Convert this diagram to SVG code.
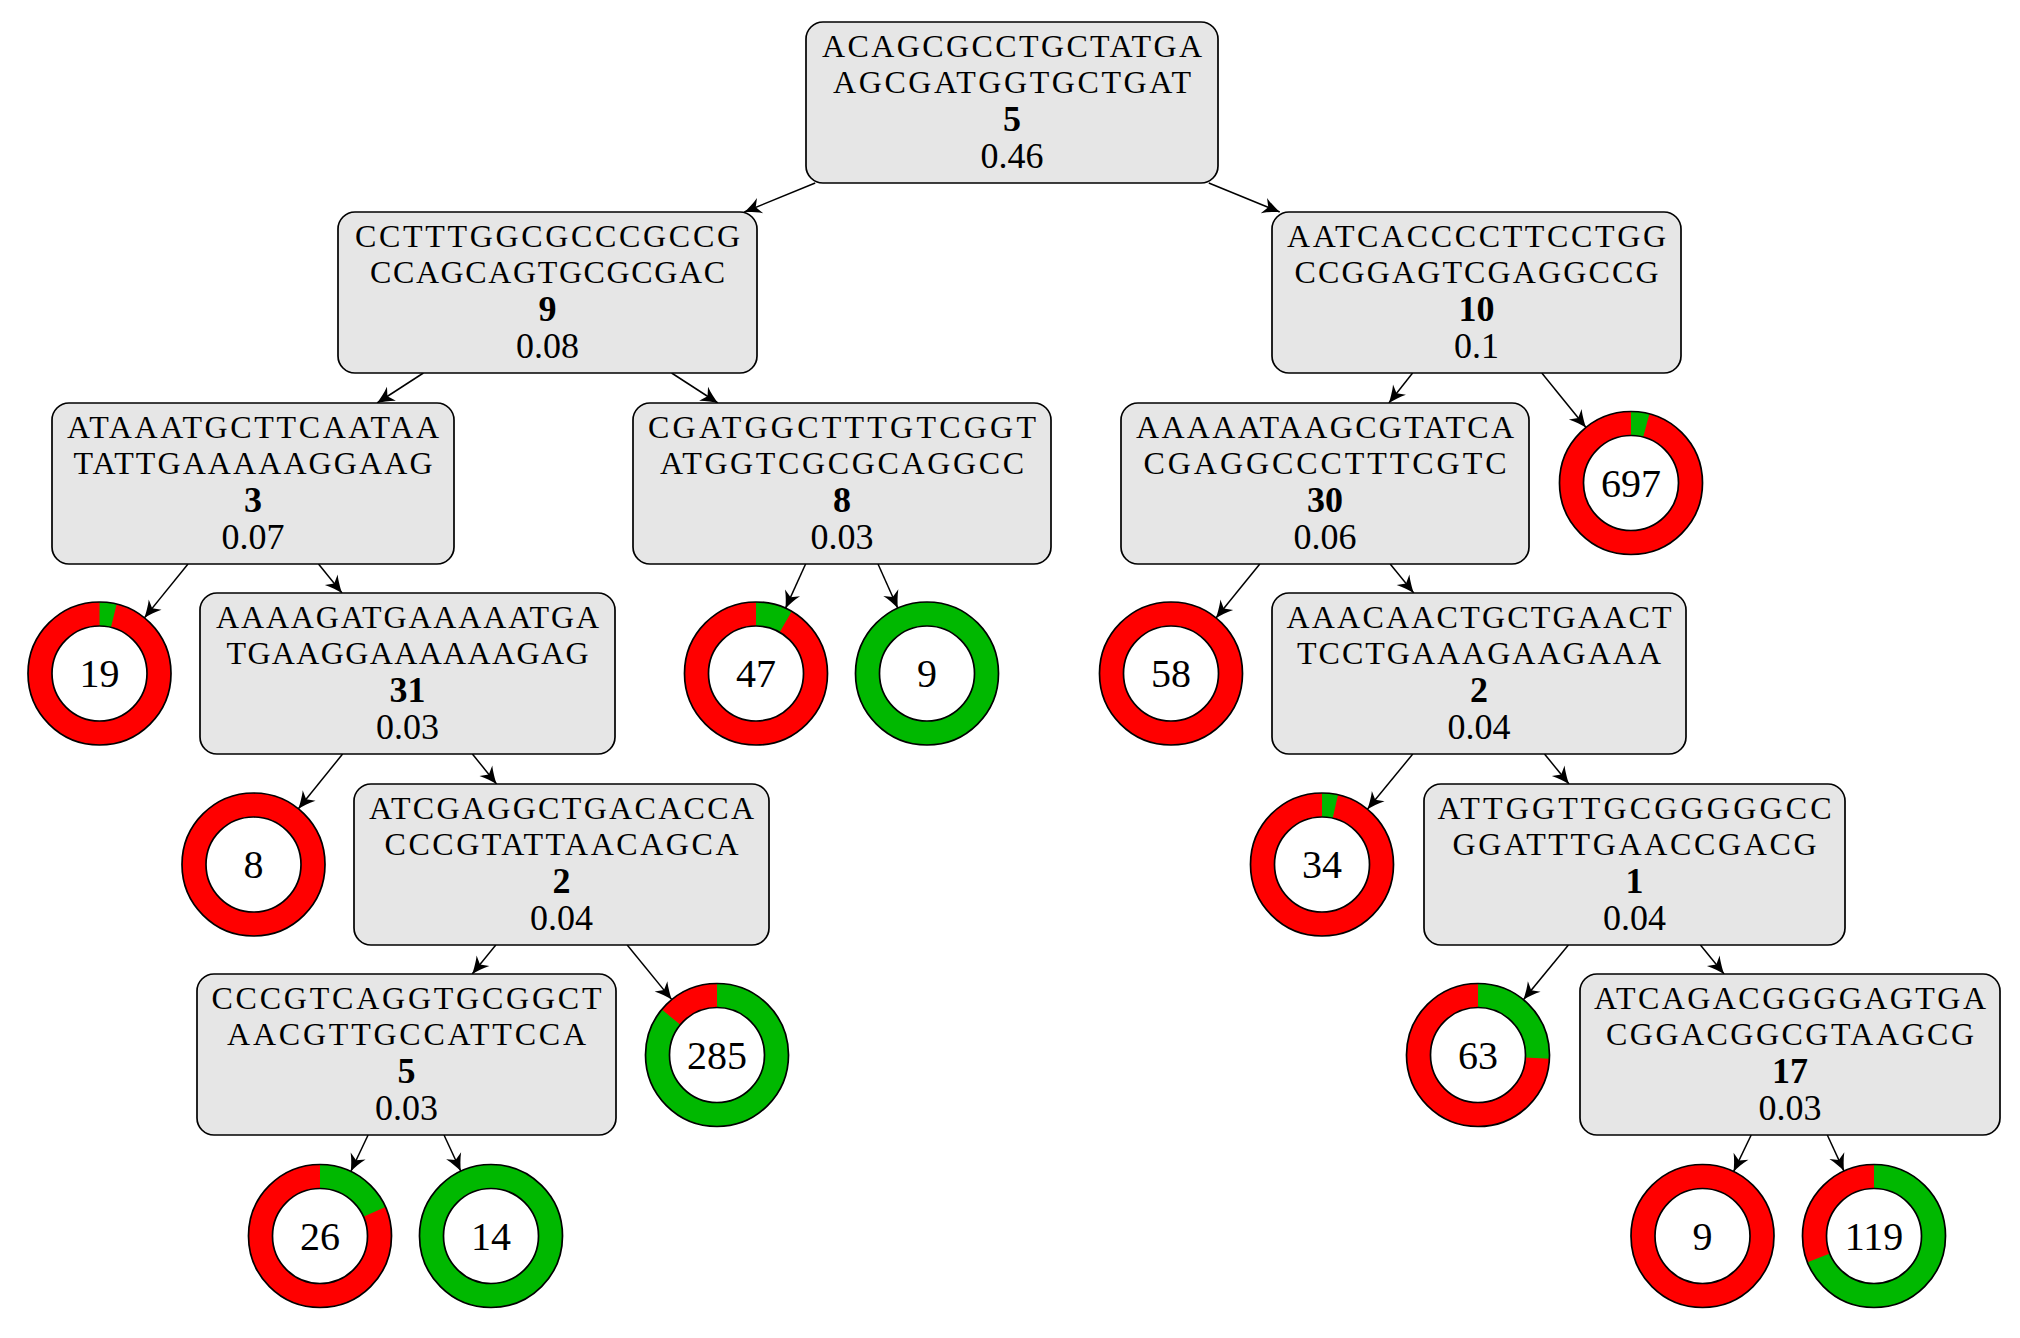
<svg xmlns="http://www.w3.org/2000/svg" width="2020" height="1338" viewBox="0 0 2020 1338">
  <style>
    .box { fill: #e6e6e6; stroke: #000; stroke-width: 1.7; }
    .seq { font-family: "Liberation Serif", "DejaVu Serif", serif; font-size: 32px; text-anchor: middle; fill: #000; }
    .num { font-family: "Liberation Serif", "DejaVu Serif", serif; font-size: 36px; text-anchor: middle; fill: #000; }
    .bold { font-weight: bold; }
    .count { font-family: "Liberation Serif", "DejaVu Serif", serif; font-size: 40px; text-anchor: middle; fill: #000; }
    .edge { stroke: #000; stroke-width: 1.5; fill: none; marker-end: url(#arrow); }
    .ring-red { fill: none; stroke: #ff0000; stroke-width: 24; }
    .ring-green { fill: none; stroke: #00b800; stroke-width: 24; }
    .rim { fill: none; stroke: #000; stroke-width: 1.7; }
    .hole { fill: #fff; stroke: #000; stroke-width: 1.7; }
  </style>
  <defs>
    <marker id="arrow" markerUnits="userSpaceOnUse" markerWidth="20" markerHeight="20" viewBox="-16 -8 17 16" refX="0" refY="0" orient="auto">
      <path d="M0,0 C-4,-1.5 -10,-4 -14.5,-7 L-10.5,0 L-14.5,7 C-10,4 -4,1.5 0,0 Z" fill="#000"/>
    </marker>
  </defs>

  <rect width="2020" height="1338" fill="#fff"/>

  <!-- connectors -->
  <g id="edges">
    <line class="edge" x1="815.2" y1="183" x2="744.3" y2="212"/>
    <line class="edge" x1="1208.8" y1="183" x2="1279.7" y2="212"/>
    <line class="edge" x1="423.4" y1="373" x2="377.1" y2="403"/>
    <line class="edge" x1="671.6" y1="373" x2="717.9" y2="403"/>
    <line class="edge" x1="1412.6" y1="373" x2="1388.9" y2="403"/>
    <line class="edge" x1="1541.8" y1="373" x2="1586" y2="427.5"/>
    <line class="edge" x1="188" y1="564" x2="144.4" y2="617.9"/>
    <line class="edge" x1="318.5" y1="564" x2="342" y2="593"/>
    <line class="edge" x1="805.6" y1="564" x2="785.5" y2="608.4"/>
    <line class="edge" x1="878" y1="564" x2="897.8" y2="608.2"/>
    <line class="edge" x1="1259.8" y1="564" x2="1216" y2="618"/>
    <line class="edge" x1="1390.2" y1="564" x2="1413.8" y2="593"/>
    <line class="edge" x1="342.6" y1="754" x2="298.4" y2="808.8"/>
    <line class="edge" x1="472.4" y1="754" x2="496.6" y2="784"/>
    <line class="edge" x1="1412.8" y1="754" x2="1367.4" y2="809.3"/>
    <line class="edge" x1="1544.5" y1="754" x2="1569" y2="784"/>
    <line class="edge" x1="495.8" y1="945" x2="472.2" y2="974"/>
    <line class="edge" x1="627.2" y1="945" x2="671.8" y2="999.6"/>
    <line class="edge" x1="1568.4" y1="945" x2="1523.4" y2="999.7"/>
    <line class="edge" x1="1700.4" y1="945" x2="1724.1" y2="974"/>
    <line class="edge" x1="368.1" y1="1135" x2="350.8" y2="1171.5"/>
    <line class="edge" x1="444" y1="1135" x2="460.8" y2="1171.2"/>
    <line class="edge" x1="1751.2" y1="1135" x2="1733.6" y2="1171.6"/>
    <line class="edge" x1="1827.3" y1="1135" x2="1844" y2="1171.1"/>
  </g>

  <!-- split nodes -->
  <g id="n0">
    <rect class="box" x="806" y="22" width="412" height="161" rx="17"/>
    <text class="seq" x="1012" y="56.5" textLength="380">ACAGCGCCTGCTATGA</text>
    <text class="seq" x="1012" y="93" textLength="358">AGCGATGGTGCTGAT</text>
    <text class="num bold" x="1012" y="131">5</text>
    <text class="num" x="1012" y="168">0.46</text>
  </g>
  <g id="n1">
    <rect class="box" x="338" y="212" width="419" height="161" rx="17"/>
    <text class="seq" x="547.5" y="246.5" textLength="385">CCTTTGGCGCCCGCCG</text>
    <text class="seq" x="547.5" y="283" textLength="355">CCAGCAGTGCGCGAC</text>
    <text class="num bold" x="547.5" y="321">9</text>
    <text class="num" x="547.5" y="358">0.08</text>
  </g>
  <g id="n2">
    <rect class="box" x="1272" y="212" width="409" height="161" rx="17"/>
    <text class="seq" x="1476.5" y="246.5" textLength="379">AATCACCCCTTCCTGG</text>
    <text class="seq" x="1476.5" y="283" textLength="364">CCGGAGTCGAGGCCG</text>
    <text class="num bold" x="1476.5" y="321">10</text>
    <text class="num" x="1476.5" y="358">0.1</text>
  </g>
  <g id="n3">
    <rect class="box" x="52" y="403" width="402" height="161" rx="17"/>
    <text class="seq" x="253" y="437.5" textLength="372">ATAAATGCTTCAATAA</text>
    <text class="seq" x="253" y="474" textLength="359">TATTGAAAAAGGAAG</text>
    <text class="num bold" x="253" y="512">3</text>
    <text class="num" x="253" y="549">0.07</text>
  </g>
  <g id="n4">
    <rect class="box" x="633" y="403" width="418" height="161" rx="17"/>
    <text class="seq" x="842" y="437.5" textLength="388">CGATGGCTTTGTCGGT</text>
    <text class="seq" x="842" y="474" textLength="364">ATGGTCGCGCAGGCC</text>
    <text class="num bold" x="842" y="512">8</text>
    <text class="num" x="842" y="549">0.03</text>
  </g>
  <g id="n5">
    <rect class="box" x="1121" y="403" width="408" height="161" rx="17"/>
    <text class="seq" x="1325" y="437.5" textLength="378">AAAAATAAGCGTATCA</text>
    <text class="seq" x="1325" y="474" textLength="363">CGAGGCCCTTTCGTC</text>
    <text class="num bold" x="1325" y="512">30</text>
    <text class="num" x="1325" y="549">0.06</text>
  </g>
  <g id="n6">
    <rect class="box" x="200" y="593" width="415" height="161" rx="17"/>
    <text class="seq" x="407.5" y="627.5" textLength="383">AAAAGATGAAAAATGA</text>
    <text class="seq" x="407.5" y="664" textLength="362">TGAAGGAAAAAAGAG</text>
    <text class="num bold" x="407.5" y="702">31</text>
    <text class="num" x="407.5" y="739">0.03</text>
  </g>
  <g id="n7">
    <rect class="box" x="1272" y="593" width="414" height="161" rx="17"/>
    <text class="seq" x="1479" y="627.5" textLength="385">AAACAACTGCTGAACT</text>
    <text class="seq" x="1479" y="664" textLength="364">TCCTGAAAGAAGAAA</text>
    <text class="num bold" x="1479" y="702">2</text>
    <text class="num" x="1479" y="739">0.04</text>
  </g>
  <g id="n8">
    <rect class="box" x="354" y="784" width="415" height="161" rx="17"/>
    <text class="seq" x="561.5" y="818.5" textLength="385">ATCGAGGCTGACACCA</text>
    <text class="seq" x="561.5" y="855" textLength="354">CCCGTATTAACAGCA</text>
    <text class="num bold" x="561.5" y="893">2</text>
    <text class="num" x="561.5" y="930">0.04</text>
  </g>
  <g id="n9">
    <rect class="box" x="1424" y="784" width="421" height="161" rx="17"/>
    <text class="seq" x="1634.5" y="818.5" textLength="394">ATTGGTTGCGGGGGCC</text>
    <text class="seq" x="1634.5" y="855" textLength="364">GGATTTGAACCGACG</text>
    <text class="num bold" x="1634.5" y="893">1</text>
    <text class="num" x="1634.5" y="930">0.04</text>
  </g>
  <g id="n10">
    <rect class="box" x="197" y="974" width="419" height="161" rx="17"/>
    <text class="seq" x="406.5" y="1008.5" textLength="390">CCCGTCAGGTGCGGCT</text>
    <text class="seq" x="406.5" y="1045" textLength="359">AACGTTGCCATTCCA</text>
    <text class="num bold" x="406.5" y="1083">5</text>
    <text class="num" x="406.5" y="1120">0.03</text>
  </g>
  <g id="n11">
    <rect class="box" x="1580" y="974" width="420" height="161" rx="17"/>
    <text class="seq" x="1790" y="1008.5" textLength="392">ATCAGACGGGGAGTGA</text>
    <text class="seq" x="1790" y="1045" textLength="368">CGGACGGCGTAAGCG</text>
    <text class="num bold" x="1790" y="1083">17</text>
    <text class="num" x="1790" y="1120">0.03</text>
  </g>

  <!-- leaf nodes: red ring with the green share drawn clockwise from 12 o'clock -->
  <g id="leaf19">
    <circle class="ring-red" cx="99.5" cy="673.5" r="59.5"/>
    <circle class="ring-green" cx="99.5" cy="673.5" r="59.5" stroke-dasharray="14.5 400" transform="rotate(-90 99.5 673.5)"/>
    <circle class="rim" cx="99.5" cy="673.5" r="71.5"/>
    <circle class="hole" cx="99.5" cy="673.5" r="47.5"/>
    <text class="count" x="99.5" y="687">19</text>
  </g>
  <g id="leaf47">
    <circle class="ring-red" cx="756" cy="673.5" r="59.5"/>
    <circle class="ring-green" cx="756" cy="673.5" r="59.5" stroke-dasharray="31 400" transform="rotate(-90 756 673.5)"/>
    <circle class="rim" cx="756" cy="673.5" r="71.5"/>
    <circle class="hole" cx="756" cy="673.5" r="47.5"/>
    <text class="count" x="756" y="687">47</text>
  </g>
  <g id="leaf9a">
    <circle class="ring-green" cx="927" cy="673.5" r="59.5"/>
    <circle class="rim" cx="927" cy="673.5" r="71.5"/>
    <circle class="hole" cx="927" cy="673.5" r="47.5"/>
    <text class="count" x="927" y="687">9</text>
  </g>
  <g id="leaf697">
    <circle class="ring-red" cx="1631" cy="483" r="59.5"/>
    <circle class="ring-green" cx="1631" cy="483" r="59.5" stroke-dasharray="15.5 400" transform="rotate(-90 1631 483)"/>
    <circle class="rim" cx="1631" cy="483" r="71.5"/>
    <circle class="hole" cx="1631" cy="483" r="47.5"/>
    <text class="count" x="1631" y="496.5">697</text>
  </g>
  <g id="leaf58">
    <circle class="ring-red" cx="1171" cy="673.5" r="59.5"/>
    <circle class="rim" cx="1171" cy="673.5" r="71.5"/>
    <circle class="hole" cx="1171" cy="673.5" r="47.5"/>
    <text class="count" x="1171" y="687">58</text>
  </g>
  <g id="leaf8">
    <circle class="ring-red" cx="253.5" cy="864.5" r="59.5"/>
    <circle class="rim" cx="253.5" cy="864.5" r="71.5"/>
    <circle class="hole" cx="253.5" cy="864.5" r="47.5"/>
    <text class="count" x="253.5" y="878">8</text>
  </g>
  <g id="leaf34">
    <circle class="ring-red" cx="1322" cy="864.5" r="59.5"/>
    <circle class="ring-green" cx="1322" cy="864.5" r="59.5" stroke-dasharray="13.5 400" transform="rotate(-90 1322 864.5)"/>
    <circle class="rim" cx="1322" cy="864.5" r="71.5"/>
    <circle class="hole" cx="1322" cy="864.5" r="47.5"/>
    <text class="count" x="1322" y="878">34</text>
  </g>
  <g id="leaf285">
    <circle class="ring-red" cx="717" cy="1055" r="59.5"/>
    <circle class="ring-green" cx="717" cy="1055" r="59.5" stroke-dasharray="320.9 400" transform="rotate(-90 717 1055)"/>
    <circle class="rim" cx="717" cy="1055" r="71.5"/>
    <circle class="hole" cx="717" cy="1055" r="47.5"/>
    <text class="count" x="717" y="1068.5">285</text>
  </g>
  <g id="leaf63">
    <circle class="ring-red" cx="1478" cy="1055" r="59.5"/>
    <circle class="ring-green" cx="1478" cy="1055" r="59.5" stroke-dasharray="96.6 400" transform="rotate(-90 1478 1055)"/>
    <circle class="rim" cx="1478" cy="1055" r="71.5"/>
    <circle class="hole" cx="1478" cy="1055" r="47.5"/>
    <text class="count" x="1478" y="1068.5">63</text>
  </g>
  <g id="leaf26">
    <circle class="ring-red" cx="320" cy="1236" r="59.5"/>
    <circle class="ring-green" cx="320" cy="1236" r="59.5" stroke-dasharray="68.5 400" transform="rotate(-90 320 1236)"/>
    <circle class="rim" cx="320" cy="1236" r="71.5"/>
    <circle class="hole" cx="320" cy="1236" r="47.5"/>
    <text class="count" x="320" y="1249.5">26</text>
  </g>
  <g id="leaf14">
    <circle class="ring-green" cx="491" cy="1236" r="59.5"/>
    <circle class="rim" cx="491" cy="1236" r="71.5"/>
    <circle class="hole" cx="491" cy="1236" r="47.5"/>
    <text class="count" x="491" y="1249.5">14</text>
  </g>
  <g id="leaf9b">
    <circle class="ring-red" cx="1702.5" cy="1236" r="59.5"/>
    <circle class="rim" cx="1702.5" cy="1236" r="71.5"/>
    <circle class="hole" cx="1702.5" cy="1236" r="47.5"/>
    <text class="count" x="1702.5" y="1249.5">9</text>
  </g>
  <g id="leaf119">
    <circle class="ring-red" cx="1874" cy="1236" r="59.5"/>
    <circle class="ring-green" cx="1874" cy="1236" r="59.5" stroke-dasharray="257.5 400" transform="rotate(-90 1874 1236)"/>
    <circle class="rim" cx="1874" cy="1236" r="71.5"/>
    <circle class="hole" cx="1874" cy="1236" r="47.5"/>
    <text class="count" x="1874" y="1249.5">119</text>
  </g>
</svg>
